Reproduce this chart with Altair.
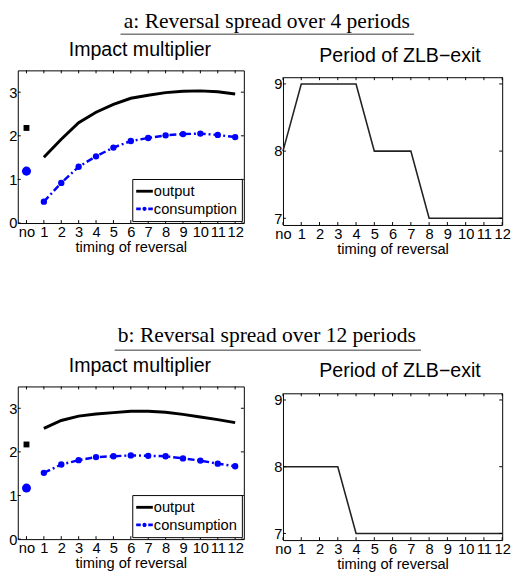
import altair as alt
import pandas as pd

# ---------------- data ----------------
timing = list(range(0, 13))            # 0 is the "no reversal" case
later = timing[1:]
series_names = ["output", "consumption"]
impact_ticks = [0, 1, 2, 3]
exit_ticks = [7, 8, 9]

header_a_text = "a: Reversal spread over 4 periods"
header_b_text = "b: Reversal spread over 12 periods"
impact_title = "Impact multiplier"
exit_title = "Period of ZLB\u2212exit"
x_title = "timing of reversal"

a_output_no = 2.18
a_output = [1.51, 1.92, 2.30, 2.54, 2.72, 2.86, 2.93, 2.99, 3.02, 3.03, 3.01, 2.96]
a_cons_no = 1.19
a_cons = [0.49, 0.92, 1.29, 1.53, 1.73, 1.88, 1.95, 2.01, 2.04, 2.05, 2.02, 1.97]
a_exit = [8, 9, 9, 9, 9, 8, 8, 8, 7, 7, 7, 7, 7]

b_output_no = 2.17
b_output = [2.54, 2.72, 2.82, 2.87, 2.90, 2.93, 2.93, 2.91, 2.86, 2.80, 2.74, 2.67]
b_cons_no = 1.17
b_cons = [1.52, 1.71, 1.81, 1.88, 1.90, 1.92, 1.91, 1.90, 1.85, 1.80, 1.73, 1.67]
b_exit = [8, 8, 8, 8, 7, 7, 7, 7, 7, 7, 7, 7, 7]

SANS = "Liberation Sans"
SERIF = "Liberation Serif"

# legend symbols (unit-square SVG paths)
path_out = "M-1,-0.17H1V0.17H-1Z"
path_cons = ("M-1,-0.16H-0.45V0.16H-1Z "
             "M-0.25,0A0.25,0.25 0 1,0 0.25,0A0.25,0.25 0 1,0 -0.25,0Z "
             "M0.45,-0.16H1V0.16H0.45Z")

LABEL_EXPR = "datum.value == 0 ? 'no' : datum.value"


def x_axis():
    return alt.Axis(values=timing, labelExpr=LABEL_EXPR, title=x_title,
                    labelFontSize=15, titleFontSize=15)


def y_axis(vals):
    return alt.Axis(values=vals, title=None, labelFontSize=15)


def inner_ticks(xs, ys, xax, yax, xvals, yvals, W, H):
    tx = pd.DataFrame({"t": xvals})
    ty = pd.DataFrame({"v": yvals})
    base_x = alt.Chart(tx).mark_rule(color="black", strokeWidth=1)
    base_y = alt.Chart(ty).mark_rule(color="black", strokeWidth=1)
    xe = alt.X("t:Q", scale=xs, axis=xax)
    ye = alt.Y("v:Q", scale=ys, axis=yax)
    return [
        base_x.encode(x=xe, y=alt.value(H), y2=alt.value(H - 3)),
        base_x.encode(x=xe, y=alt.value(0), y2=alt.value(3)),
        base_y.encode(y=ye, x=alt.value(0), x2=alt.value(3)),
        base_y.encode(y=ye, x=alt.value(W - 3), x2=alt.value(W)),
    ]


def impact_panel(out_no, out, cons_no, cons, W=231, H=156):
    xs = alt.Scale(domain=[-0.5, 12.5], nice=False, zero=False)
    ys = alt.Scale(domain=[0, 3.5], nice=False, zero=False)
    xax = x_axis()
    yax = y_axis(impact_ticks)
    df = pd.DataFrame({"t": later, "output": out, "consumption": cons})
    dno = pd.DataFrame({"t": [0], "output": [out_no], "consumption": [cons_no]})
    xe = alt.X("t:Q", scale=xs, axis=xax)

    out_line = alt.Chart(df).mark_line(color="black", strokeWidth=3).encode(
        x=xe, y=alt.Y("output:Q", scale=ys, axis=yax))
    cons_line = alt.Chart(df).mark_line(
        color="blue", strokeWidth=2.5, strokeDash=[7, 3, 2, 3]).encode(
        x=xe, y=alt.Y("consumption:Q", scale=ys, axis=yax))
    cons_pts = alt.Chart(df).mark_circle(color="blue", size=42, opacity=1).encode(
        x=xe, y=alt.Y("consumption:Q", scale=ys, axis=yax))
    out_no_pt = alt.Chart(dno).mark_square(color="black", size=36, opacity=1).encode(
        x=xe, y=alt.Y("output:Q", scale=ys, axis=yax))
    cons_no_pt = alt.Chart(dno).mark_circle(color="blue", size=85, opacity=1).encode(
        x=xe, y=alt.Y("consumption:Q", scale=ys, axis=yax))

    leg = alt.Legend(title=None, orient="bottom-right", offset=2, padding=4,
                     strokeColor="black", fillColor="white", symbolSize=289,
                     labelFontSize=15, labelFont=SANS, labelColor="black",
                     labelOffset=1, rowPadding=1, symbolStrokeWidth=0,
                     symbolOpacity=1)
    legend_df = pd.DataFrame({"series": series_names})
    legend_layer = alt.Chart(legend_df).mark_point(filled=True, opacity=1).encode(
        color=alt.Color("series:N", scale=alt.Scale(domain=series_names, range=["black", "blue"]), legend=leg),
        shape=alt.Shape("series:N", scale=alt.Scale(domain=series_names, range=[path_out, path_cons]), legend=leg),
        size=alt.Size("series:N", scale=alt.Scale(domain=series_names, range=[289, 289]), legend=leg),
    ).transform_filter("false")

    layers = [out_line, cons_line, cons_pts, out_no_pt, cons_no_pt, legend_layer]
    layers += inner_ticks(xs, ys, xax, yax, timing, impact_ticks, W, H)
    return alt.layer(*layers).properties(width=W, height=H)


def exit_panel(vals, W=224, H=151):
    xs = alt.Scale(domain=[0, 12], nice=False, zero=False)
    ys = alt.Scale(domain=[6.9, 9.1], nice=False, zero=False)
    xax = x_axis()
    yax = y_axis(exit_ticks)
    df = pd.DataFrame({"t": timing, "exit": vals})
    line = alt.Chart(df).mark_line(color="#222222", strokeWidth=1.6).encode(
        x=alt.X("t:Q", scale=xs, axis=xax),
        y=alt.Y("exit:Q", scale=ys, axis=yax))
    layers = [line] + inner_ticks(xs, ys, xax, yax, timing, exit_ticks, W, H)
    return alt.layer(*layers).properties(width=W, height=H)


def spacer(h):
    df = pd.DataFrame({"label": [x_title]})
    return alt.Chart(df).mark_text().encode(
        text="label:N", x=alt.value(0), y=alt.value(0)
    ).transform_filter("false").properties(
        width=1, height=h, view=alt.ViewBackground(strokeOpacity=0))


def header(text, ux1, ux2, y_text, y_line, y_t1, y_t2, H):
    df = pd.DataFrame({"label": [text]})
    dt = pd.DataFrame({"label": [impact_title, exit_title]})
    main = alt.Chart(df).mark_text(font=SERIF, fontSize=22, baseline="alphabetic",
                                   align="center", color="black").encode(
        x=alt.value(254.5), y=alt.value(y_text), text="label:N")
    rule = alt.Chart(df).mark_rule(color="#333333", strokeWidth=1).encode(
        x=alt.value(ux1), x2=alt.value(ux2), y=alt.value(y_line))
    t1 = alt.Chart(dt).transform_filter(alt.datum.label == impact_title).mark_text(
        font=SANS, fontSize=20, baseline="alphabetic", align="center",
        color="black").encode(x=alt.value(124.8), y=alt.value(y_t1), text="label:N")
    t2 = alt.Chart(dt).transform_filter(alt.datum.label == exit_title).mark_text(
        font=SANS, fontSize=20, baseline="alphabetic", align="center",
        color="black").encode(x=alt.value(390.6), y=alt.value(y_t2), text="label:N")
    return alt.layer(main, rule, t1, t2).properties(
        width=500, height=H, view=alt.ViewBackground(strokeOpacity=0))


def row(left, right):
    right_col = alt.vconcat(spacer(6), right, spacing=0)
    return alt.hconcat(left, right_col, spacing=29).resolve_scale(
        color="independent", shape="independent", size="independent").resolve_legend(
        color="independent", shape="independent", size="independent")


header_a = header(header_a_text, 105, 405, 18, 24, 46.2, 52.5, 60)
row_a = row(impact_panel(a_output_no, a_output, a_cons_no, a_cons),
            exit_panel(a_exit, H=151))
header_b = header(header_b_text, 99, 412, 86.9, 94.9, 116.9, 121.9, 130.4)
row_b = row(impact_panel(b_output_no, b_output, b_cons_no, b_cons),
            exit_panel(b_exit, H=150))

chart = alt.vconcat(header_a, row_a, header_b, row_b, spacing=0).resolve_scale(
    color="independent", shape="independent", size="independent").resolve_legend(
    color="independent", shape="independent", size="independent").properties(
    padding={"left": 0, "top": -3.5, "right": 0, "bottom": 0}
).configure_view(stroke="black", strokeWidth=1).configure_axis(
    labelFont=SANS, labelFontSize=15, labelColor="black",
    titleFont=SANS, titleFontSize=15, titleFontWeight="normal",
    titleColor="black", ticks=False, domain=False, grid=False,
    labelFlush=False, labelOverlap=False
).configure_axisX(labelPadding=2, titlePadding=0, labelAngle=0
).configure_axisY(labelPadding=1
).configure_legend(symbolSize=289, labelFontSize=15, labelFont=SANS)

chart.save("out.html", embed_options={"renderer": "svg", "actions": False})
